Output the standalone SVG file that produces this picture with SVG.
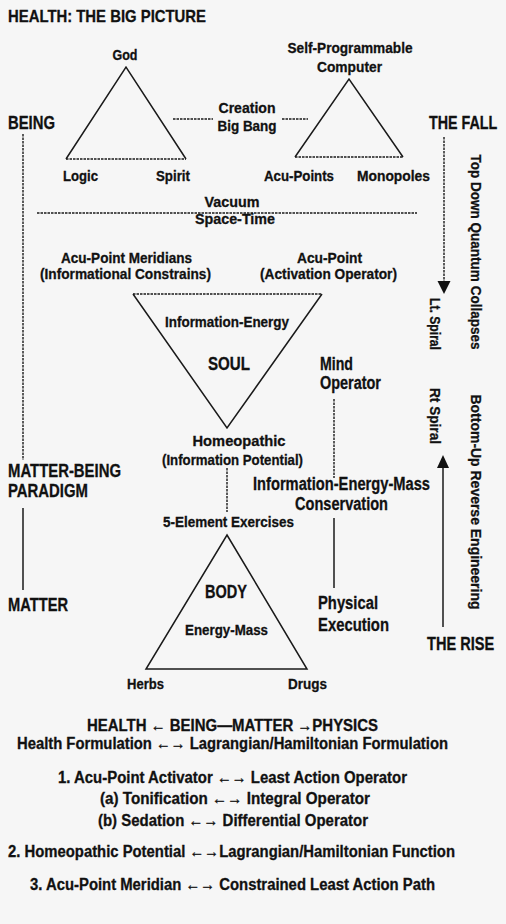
<svg xmlns="http://www.w3.org/2000/svg" width="506" height="924" viewBox="0 0 506 924">
<style>
text{font-family:"Liberation Sans Narrow","Liberation Sans",Arial,sans-serif;font-weight:bold;fill:#111;stroke:#111;stroke-width:0.3}
.t{font-size:17px}
.s{font-size:15px}
.l{font-size:18px}
.v{font-size:15.5px}
.b{font-size:16px}
.m{text-anchor:middle}
.ln{stroke:#1a1a1a;stroke-width:1.5;fill:none}
.dt{stroke:#1a1a1a;stroke-width:1.4;fill:none;stroke-dasharray:2.5 1}
.ar{fill:#111}
</style>
<rect width="506" height="924" fill="#f6f6f6"/>
<text class="t" x="8" y="22" textLength="198" lengthAdjust="spacingAndGlyphs">HEALTH: THE BIG PICTURE</text>

<g id="connectors">
<line class="dt" x1="173" y1="119" x2="213" y2="119"/>
<line class="dt" x1="282" y1="119" x2="308" y2="119"/>
<line class="dt" x1="37" y1="213" x2="417" y2="213"/>
<line class="dt" x1="23" y1="134" x2="23" y2="460"/>
<line class="ln" x1="23" y1="508" x2="23" y2="590"/>
<line class="dt" x1="444" y1="137" x2="444" y2="283"/>
<polygon class="ar" points="437.5,281 450.5,281 444,294"/>
<line class="ln" x1="443" y1="627" x2="443" y2="466"/>
<polygon class="ar" points="437,468 449,468 443,455"/>
<line class="dt" x1="334" y1="399" x2="334" y2="478"/>
<line class="ln" x1="334" y1="518" x2="334" y2="588"/>
<line class="dt" x1="227" y1="468" x2="227" y2="512"/>
</g>

<g id="god">
<polyline class="ln" points="66,159 126,67 186,159"/>
<line class="dt" x1="66" y1="159" x2="186" y2="159"/>
<text class="s m" x="125" y="60" textLength="25" lengthAdjust="spacingAndGlyphs">God</text>
<text class="s" x="63" y="181" textLength="35" lengthAdjust="spacingAndGlyphs">Logic</text>
<text class="s" x="156" y="181" textLength="34" lengthAdjust="spacingAndGlyphs">Spirit</text>
</g>

<g id="creation">
<text class="s m" x="247" y="113" textLength="57" lengthAdjust="spacingAndGlyphs">Creation</text>
<text class="s m" x="247" y="131" textLength="59" lengthAdjust="spacingAndGlyphs">Big Bang</text>
</g>

<g id="computer">
<polyline class="ln" points="295,157 349,79 403,157"/>
<line class="dt" x1="295" y1="157" x2="403" y2="157"/>
<text class="s m" x="350" y="53" textLength="125" lengthAdjust="spacingAndGlyphs">Self-Programmable</text>
<text class="s m" x="349.5" y="72" textLength="65" lengthAdjust="spacingAndGlyphs">Computer</text>
<text class="s" x="264" y="181" textLength="70" lengthAdjust="spacingAndGlyphs">Acu-Points</text>
<text class="s" x="357" y="181" textLength="73" lengthAdjust="spacingAndGlyphs">Monopoles</text>
</g>

<g id="being">
<text class="l" x="8" y="129" textLength="47" lengthAdjust="spacingAndGlyphs">BEING</text>
</g>
<g id="thefall">
<text class="l" transform="translate(429,129) scale(0.795,1)" x="0" y="0">THE FALL</text>
</g>

<g id="vacuum">
<text class="s m" x="232" y="207" textLength="55" lengthAdjust="spacingAndGlyphs">Vacuum</text>
<text class="s m" x="235" y="224" textLength="80" lengthAdjust="spacingAndGlyphs">Space-Time</text>
</g>

<g id="meridians">
<text class="s m" x="126.5" y="263" textLength="131" lengthAdjust="spacingAndGlyphs">Acu-Point Meridians</text>
<text class="s m" x="125.5" y="279" textLength="171" lengthAdjust="spacingAndGlyphs">(Informational Constrains)</text>
</g>
<g id="acupoint">
<text class="s m" x="329.5" y="263" textLength="65" lengthAdjust="spacingAndGlyphs">Acu-Point</text>
<text class="s m" x="328.5" y="279" textLength="137" lengthAdjust="spacingAndGlyphs">(Activation Operator)</text>
</g>

<g id="soul">
<polyline class="ln" points="133,294 227,428 322,294"/>
<line class="dt" x1="133" y1="294" x2="322" y2="294"/>
<text class="s m" x="227" y="327" textLength="124" lengthAdjust="spacingAndGlyphs">Information-Energy</text>
<text class="l m" x="229" y="370" textLength="42" lengthAdjust="spacingAndGlyphs">SOUL</text>
</g>

<g id="mind">
<text class="l" x="320" y="370" textLength="33" lengthAdjust="spacingAndGlyphs">Mind</text>
<text class="l" x="320" y="389" textLength="61" lengthAdjust="spacingAndGlyphs">Operator</text>
</g>

<g id="homeopathic">
<text class="s m" x="239" y="446" textLength="93" lengthAdjust="spacingAndGlyphs">Homeopathic</text>
<text class="s m" x="232.5" y="465" textLength="141" lengthAdjust="spacingAndGlyphs">(Information Potential)</text>
</g>

<g id="paradigm">
<text class="l" x="8" y="477" textLength="113" lengthAdjust="spacingAndGlyphs">MATTER-BEING</text>
<text class="l" x="8" y="497" textLength="80" lengthAdjust="spacingAndGlyphs">PARADIGM</text>
</g>

<g id="conservation">
<text class="l" x="253" y="490" textLength="177" lengthAdjust="spacingAndGlyphs">Information-Energy-Mass</text>
<text class="l" x="295" y="510" textLength="93" lengthAdjust="spacingAndGlyphs">Conservation</text>
</g>

<g id="exercises">
<text class="s m" x="228.5" y="527" textLength="131" lengthAdjust="spacingAndGlyphs">5-Element Exercises</text>
</g>

<g id="body">
<polygon class="ln" points="227,535 307,669 146,669"/>
<text class="l m" x="226" y="598" textLength="42" lengthAdjust="spacingAndGlyphs">BODY</text>
<text class="s m" x="226.5" y="635" textLength="83" lengthAdjust="spacingAndGlyphs">Energy-Mass</text>
<text class="s" x="127" y="689" textLength="37" lengthAdjust="spacingAndGlyphs">Herbs</text>
<text class="s" x="288" y="689" textLength="39" lengthAdjust="spacingAndGlyphs">Drugs</text>
</g>

<g id="matter">
<text class="l" x="8" y="611" textLength="60" lengthAdjust="spacingAndGlyphs">MATTER</text>
</g>

<g id="physical">
<text class="l" x="318" y="609" textLength="60" lengthAdjust="spacingAndGlyphs">Physical</text>
<text class="l" x="318" y="631" textLength="71" lengthAdjust="spacingAndGlyphs">Execution</text>
</g>

<g id="therise">
<text class="l" transform="translate(427,650) scale(0.81,1)" x="0" y="0">THE RISE</text>
</g>

<g id="vertical-labels">
<text class="v m" transform="translate(471,252) rotate(90)" textLength="195" lengthAdjust="spacingAndGlyphs">Top Down Quantum Collapses</text>
<text class="v m" transform="translate(430,324) rotate(90)" textLength="52" lengthAdjust="spacingAndGlyphs">Lt. Spiral</text>
<text class="v m" transform="translate(430,416) rotate(90)" textLength="56" lengthAdjust="spacingAndGlyphs">Rt Spiral</text>
<text class="v m" transform="translate(471,502) rotate(90)" textLength="215" lengthAdjust="spacingAndGlyphs">Bottom-Up Reverse Engineering</text>
</g>

<g id="summary">
<text class="b m" x="232.5" y="731" textLength="291" lengthAdjust="spacingAndGlyphs">HEALTH ← BEING—MATTER →PHYSICS</text>
<text class="b m" x="232.5" y="749" textLength="431" lengthAdjust="spacingAndGlyphs">Health Formulation ←→ Lagrangian/Hamiltonian Formulation</text>
<text class="b m" x="232.5" y="783" textLength="349" lengthAdjust="spacingAndGlyphs">1. Acu-Point Activator ←→ Least Action Operator</text>
<text class="b m" x="235" y="804" textLength="270" lengthAdjust="spacingAndGlyphs">(a) Tonification ←→ Integral Operator</text>
<text class="b m" x="233" y="826" textLength="270" lengthAdjust="spacingAndGlyphs">(b) Sedation ←→ Differential Operator</text>
<text class="b m" x="231.5" y="857" textLength="447" lengthAdjust="spacingAndGlyphs">2. Homeopathic Potential ←→Lagrangian/Hamiltonian Function</text>
<text class="b m" x="232.5" y="890" textLength="405" lengthAdjust="spacingAndGlyphs">3. Acu-Point Meridian ←→ Constrained Least Action Path</text>
</g>
</svg>
